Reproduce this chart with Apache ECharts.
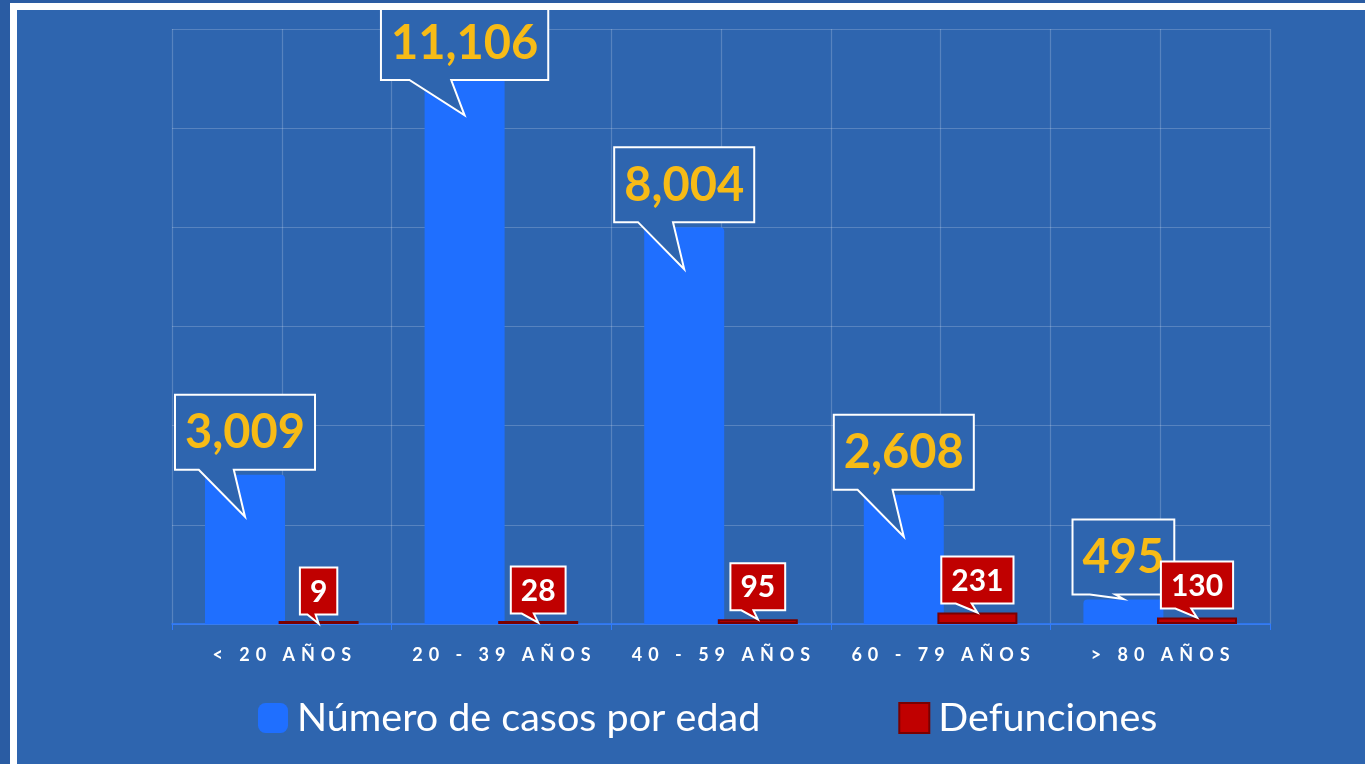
<!DOCTYPE html>
<html>
<head>
<meta charset="utf-8">
<title>Casos por edad</title>
<script src="https://cdn.jsdelivr.net/npm/echarts@6/dist/echarts.min.js"></script>
<style>
  html, body { margin: 0; padding: 0; background: #2e65af; }
  #chart { position: absolute; left: 0; top: 0; width: 1365px; height: 764px; }
  #edgeL { position: absolute; left: 0; top: 0; width: 10px; height: 764px; background: #2a5ca3; }
  #edgeT { position: absolute; left: 0; top: 0; width: 1365px; height: 3px; background: #2a5ca3; }
  #frame { position: absolute; left: 10px; top: 3px; width: 1355px; height: 761px; box-sizing: border-box;
           border-left: 7px solid #fff; border-top: 7px solid #fff; pointer-events: none; }
</style>
</head>
<body>
<div id="chart"></div>
<div id="edgeL"></div>
<div id="edgeT"></div>
<div id="frame"></div>
<script>
// datos
var categorias = ["< 20 AÑOS", "20 - 39 AÑOS", "40 - 59 AÑOS", "60 - 79 AÑOS", "> 80 AÑOS"];
var casos = [3009, 11106, 8004, 2608, 495];
var defunciones = [9, 28, 95, 231, 130];
var nombres = ["Número de casos por edad", "Defunciones"];

var BAR_W = 80;
var BAR_GAP = -0.08;
var shift = (BAR_W + BAR_W * BAR_GAP) / 2; // distancia del centro de cada barra al centro de la categoria

var measureCtx = document.createElement("canvas").getContext("2d");
function textWidth(str, font) {
  measureCtx.font = font;
  return measureCtx.measureText(str).width;
}

// globo (callout) dibujado desde las escalas del eje
function callout(opt) {
  return function (params, api) {
    var idx = api.value(0);
    var val = api.value(1);
    var top = api.coord([idx, val]);
    var base = api.coord([idx, 0]);
    var cx = top[0] + opt.shift;
    var text = echarts.format.addCommas(val);
    var w = textWidth(text, opt.font) + 2 * opt.padX;
    var h = opt.height;
    var B = top[1] - opt.lift;
    var T = Math.max(B - h, opt.minTop);
    B = T + h;
    var tipY = Math.min(top[1] + opt.tipDrop, base[1] - opt.minTipGap);
    var L = cx - w / 2, R = cx + w / 2;
    var pts = [[L, T], [R, T], [R, B], [cx + opt.tr * w, B], [cx, tipY], [cx + opt.tl * w, B], [L, B]];
    return {
      type: "group",
      children: [
        {
          type: "polygon",
          shape: { points: pts },
          style: { fill: opt.fill, stroke: "#ffffff", lineWidth: 2, lineJoin: "miter" }
        },
        {
          type: "text",
          style: {
            text: text, x: cx, y: (T + B) / 2 + 1,
            align: "center", verticalAlign: "middle",
            fill: opt.color, font: opt.font
          }
        }
      ]
    };
  };
}

var chart = echarts.init(document.getElementById("chart"));
var option = {
  backgroundColor: "#2e65af",
  animation: false,
  grid: { left: 172, right: 95, top: 29, bottom: 140 },
  legend: {
    data: [
      { name: nombres[0], icon: "roundRect" },
      { name: nombres[1], icon: "rect" }
    ],
    left: 258,
    top: 698,
    padding: 0,
    itemWidth: 30,
    itemHeight: 30,
    itemGap: 138,
    textStyle: {
      color: "#ffffff",
      fontSize: 39.5,
      fontFamily: "Lato",
      padding: [0, 0, 0, 4]
    }
  },
  xAxis: [
    {
      type: "category",
      data: categorias,
      axisLine: { lineStyle: { color: "#2f7bff", width: 1.5 } },
      axisTick: { show: true, length: 6, lineStyle: { color: "#2f7bff" } },
      splitLine: { show: false },
      axisLabel: {
        interval: 0,
        hideOverlap: false,
        color: "#ffffff",
        fontSize: 18,
        fontWeight: "bold",
        fontFamily: "Lato",
        margin: 22,
        formatter: function (v) { return v.split("").join("\u2004"); }
      }
    },
    {
      // lineas verticales (limites y centros de categoria)
      type: "value",
      min: 0,
      max: 10,
      interval: 1,
      position: "top",
      axisLine: { show: false },
      axisTick: { show: false },
      axisLabel: { show: false },
      splitLine: { show: true, lineStyle: { color: "rgba(255,255,255,0.2)", width: 1.2 } }
    }
  ],
  yAxis: {
    type: "value",
    min: 0,
    max: 12000,
    interval: 2000,
    axisLine: { show: false },
    axisTick: { show: false },
    axisLabel: { show: false },
    splitLine: { lineStyle: { color: "rgba(255,255,255,0.2)", width: 1.2 } }
  },
  series: [
    {
      name: nombres[0],
      type: "bar",
      data: casos,
      barWidth: BAR_W,
      barGap: (BAR_GAP * 100) + "%",
      itemStyle: { color: "#1f6fff", borderRadius: [4, 4, 0, 0] }
    },
    {
      name: nombres[1],
      type: "bar",
      data: defunciones,
      barWidth: BAR_W,
      barMinHeight: 3,
      itemStyle: { color: "#c00000", borderColor: "#7a0000", borderWidth: 2 }
    },
    {
      type: "custom",
      z: 10,
      silent: true,
      encode: { x: 0, y: 1 },
      data: casos.map(function (v, i) { return [i, v]; }),
      renderItem: callout({
        shift: -shift, font: "bold 47px Lato", padX: 10, height: 75,
        lift: 5, tipDrop: 42, minTipGap: 25, minTop: 5,
        tl: -0.33, tr: -0.08, fill: "#2e65af", color: "#f7bb16"
      })
    },
    {
      type: "custom",
      z: 11,
      silent: true,
      encode: { x: 0, y: 1 },
      data: defunciones.map(function (v, i) { return [i, v]; }),
      renderItem: callout({
        shift: shift, font: "bold 30px Lato", padX: 10, height: 47,
        lift: 9, tipDrop: 0, minTipGap: 0, minTop: 5,
        tl: -0.3, tr: -0.08, fill: "#c00000", color: "#ffffff"
      })
    }
  ]
};
chart.setOption(option);
</script>
</body>
</html>
